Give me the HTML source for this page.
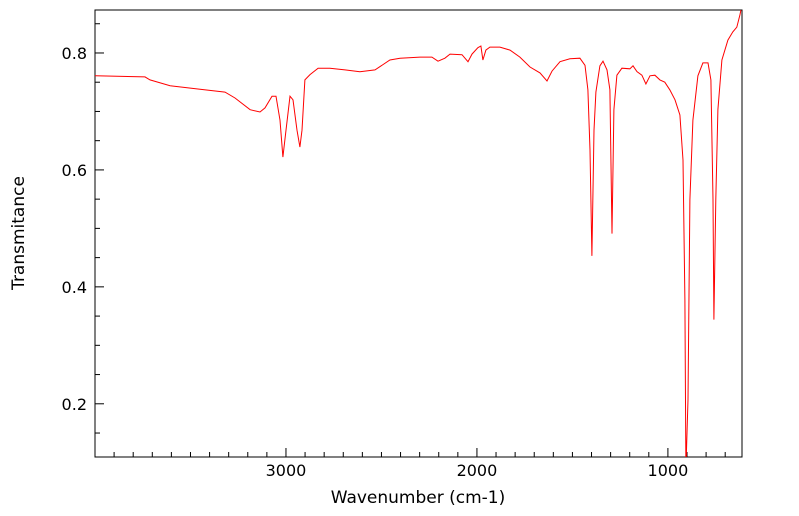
<!DOCTYPE html>
<html><head><meta charset="utf-8"><style>
html,body{margin:0;padding:0;background:#fff;}
svg{display:block;font-family:"DejaVu Sans","Liberation Sans",sans-serif;}
</style></head><body>
<svg id="chart" width="799" height="516">
<defs><clipPath id="clip"><rect x="95" y="10" width="647" height="447"/></clipPath></defs>
<g id="axes"></g>
<g clip-path="url(#clip)"><path id="line" fill="none" stroke="#ff0000" stroke-width="1"/></g>
<text x="418" y="503" text-anchor="middle" font-size="17">Wavenumber (cm-1)</text>
<text transform="translate(24,233) rotate(-90)" text-anchor="middle" font-size="17">Transmitance</text>
</svg>
<script>
const wavenumbers=[4000,3738,3712,3607,3450,3319,3267,3188,3136,3110,3073,3052,3031,3016,3000,2979,2963,2942,2927,2916,2901,2874,2832,2770,2691,2613,2534,2456,2403,2298,2236,2204,2168,2141,2078,2047,2026,1995,1979,1969,1953,1932,1880,1827,1775,1722,1670,1633,1607,1565,1513,1461,1434,1419,1408,1398,1387,1377,1356,1340,1319,1304,1293,1283,1267,1241,1199,1183,1162,1136,1115,1094,1068,1042,1016,990,963,937,921,911,906,895,885,869,843,817,790,775,764,759,749,738,717,686,660,639,623,612];
const transmittance=[0.761,0.759,0.754,0.744,0.738,0.733,0.723,0.703,0.699,0.706,0.726,0.726,0.685,0.622,0.668,0.726,0.720,0.668,0.639,0.668,0.754,0.763,0.774,0.774,0.771,0.768,0.771,0.788,0.791,0.793,0.793,0.786,0.791,0.798,0.797,0.785,0.798,0.809,0.812,0.788,0.805,0.810,0.810,0.805,0.793,0.776,0.766,0.752,0.769,0.785,0.790,0.791,0.779,0.737,0.634,0.453,0.668,0.733,0.778,0.786,0.771,0.737,0.491,0.703,0.762,0.774,0.773,0.778,0.768,0.762,0.747,0.761,0.762,0.754,0.750,0.737,0.720,0.694,0.617,0.378,0.087,0.207,0.549,0.685,0.761,0.783,0.783,0.754,0.549,0.344,0.549,0.703,0.788,0.822,0.836,0.844,0.865,0.882];
const xTicks=[3000,2000,1000];
const yTicks=[0.2,0.4,0.6,0.8];
const X0=95,X1=742,Y0=10,Y1=457,WMAX=4000,WMIN=612,TMAX=0.8735,TMIN=0.109;
function xs(w){return X0+(WMAX-w)/(WMAX-WMIN)*(X1-X0);}
function ys(t){return Y1-(t-TMIN)/(TMAX-TMIN)*(Y1-Y0);}
const NS='http://www.w3.org/2000/svg';
const axes=document.getElementById('axes');
function el(tag,a){const e=document.createElementNS(NS,tag);for(const k in a)e.setAttribute(k,a[k]);axes.appendChild(e);return e;}
const frame=el('rect',{x:X0,y:Y0,width:X1-X0,height:Y1-Y0,fill:'none',stroke:'#000','stroke-width':1});


for(let w=3900;w>=WMIN;w-=100){const major=w%1000===0;const t=el('line',{x1:xs(w),x2:xs(w),y1:Y1,y2:Y1-(major?9:5),stroke:'#000'});

}
xTicks.forEach(v=>{const t=el('text',{x:xs(v),y:Y1+19,'text-anchor':'middle','font-size':16});t.textContent=v;

});
for(let k=3;k<=17;k++){const v=k*0.05;if(v<TMIN||v>TMAX)continue;const major=k%4===0;const t=el('line',{x1:X0,x2:X0+(major?9:5),y1:ys(v),y2:ys(v),stroke:'#000'});

}
yTicks.forEach(v=>{const t=el('text',{x:X0-8,y:ys(v)+6,'text-anchor':'end','font-size':16});t.textContent=v.toFixed(1);

});
let d='';wavenumbers.forEach((w,i)=>{d+=(i?'L':'M')+xs(w).toFixed(1)+','+ys(transmittance[i]).toFixed(1);});
document.getElementById('line').setAttribute('d',d);
</script>
</body></html>
